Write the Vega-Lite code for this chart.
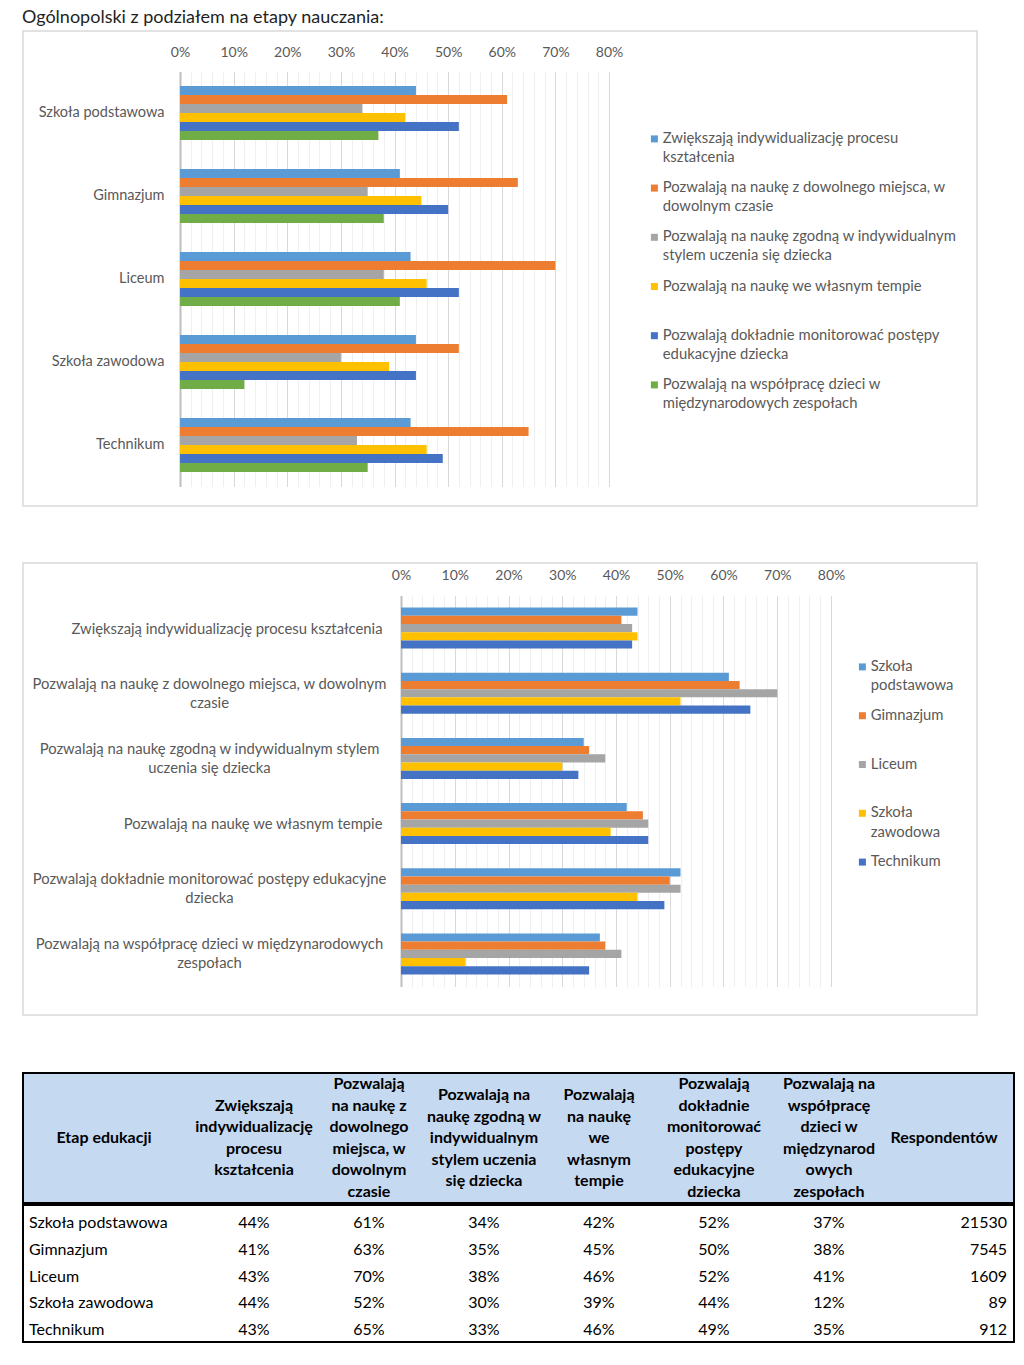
{
  "$schema": "https://vega.github.io/schema/vega-lite/v6.json",
  "background": "white",
  "padding": {"left": 22, "top": 9, "right": 5, "bottom": 5},
  "config": {"font": "Lato", "view": {"stroke": null}},
  "title": {"text": "Ogólnopolski z podziałem na etapy nauczania:", "anchor": "start", "frame": "bounds", "fontSize": 18, "fontWeight": "normal", "color": "#1F1F1F", "offset": 3},
  "datasets": {
    "wyniki": [
      {"etap": "Szkoła podstawowa", "kategoria": "Zwiększają indywidualizację procesu kształcenia", "wartosc": 0.44},
      {"etap": "Szkoła podstawowa", "kategoria": "Pozwalają na naukę z dowolnego miejsca, w dowolnym czasie", "wartosc": 0.61},
      {"etap": "Szkoła podstawowa", "kategoria": "Pozwalają na naukę zgodną w indywidualnym stylem uczenia się dziecka", "wartosc": 0.34},
      {"etap": "Szkoła podstawowa", "kategoria": "Pozwalają na naukę we własnym tempie", "wartosc": 0.42},
      {"etap": "Szkoła podstawowa", "kategoria": "Pozwalają dokładnie monitorować postępy edukacyjne dziecka", "wartosc": 0.52},
      {"etap": "Szkoła podstawowa", "kategoria": "Pozwalają na współpracę dzieci w międzynarodowych zespołach", "wartosc": 0.37},
      {"etap": "Gimnazjum", "kategoria": "Zwiększają indywidualizację procesu kształcenia", "wartosc": 0.41},
      {"etap": "Gimnazjum", "kategoria": "Pozwalają na naukę z dowolnego miejsca, w dowolnym czasie", "wartosc": 0.63},
      {"etap": "Gimnazjum", "kategoria": "Pozwalają na naukę zgodną w indywidualnym stylem uczenia się dziecka", "wartosc": 0.35},
      {"etap": "Gimnazjum", "kategoria": "Pozwalają na naukę we własnym tempie", "wartosc": 0.45},
      {"etap": "Gimnazjum", "kategoria": "Pozwalają dokładnie monitorować postępy edukacyjne dziecka", "wartosc": 0.50},
      {"etap": "Gimnazjum", "kategoria": "Pozwalają na współpracę dzieci w międzynarodowych zespołach", "wartosc": 0.38},
      {"etap": "Liceum", "kategoria": "Zwiększają indywidualizację procesu kształcenia", "wartosc": 0.43},
      {"etap": "Liceum", "kategoria": "Pozwalają na naukę z dowolnego miejsca, w dowolnym czasie", "wartosc": 0.70},
      {"etap": "Liceum", "kategoria": "Pozwalają na naukę zgodną w indywidualnym stylem uczenia się dziecka", "wartosc": 0.38},
      {"etap": "Liceum", "kategoria": "Pozwalają na naukę we własnym tempie", "wartosc": 0.46},
      {"etap": "Liceum", "kategoria": "Pozwalają dokładnie monitorować postępy edukacyjne dziecka", "wartosc": 0.52},
      {"etap": "Liceum", "kategoria": "Pozwalają na współpracę dzieci w międzynarodowych zespołach", "wartosc": 0.41},
      {"etap": "Szkoła zawodowa", "kategoria": "Zwiększają indywidualizację procesu kształcenia", "wartosc": 0.44},
      {"etap": "Szkoła zawodowa", "kategoria": "Pozwalają na naukę z dowolnego miejsca, w dowolnym czasie", "wartosc": 0.52},
      {"etap": "Szkoła zawodowa", "kategoria": "Pozwalają na naukę zgodną w indywidualnym stylem uczenia się dziecka", "wartosc": 0.30},
      {"etap": "Szkoła zawodowa", "kategoria": "Pozwalają na naukę we własnym tempie", "wartosc": 0.39},
      {"etap": "Szkoła zawodowa", "kategoria": "Pozwalają dokładnie monitorować postępy edukacyjne dziecka", "wartosc": 0.44},
      {"etap": "Szkoła zawodowa", "kategoria": "Pozwalają na współpracę dzieci w międzynarodowych zespołach", "wartosc": 0.12},
      {"etap": "Technikum", "kategoria": "Zwiększają indywidualizację procesu kształcenia", "wartosc": 0.43},
      {"etap": "Technikum", "kategoria": "Pozwalają na naukę z dowolnego miejsca, w dowolnym czasie", "wartosc": 0.65},
      {"etap": "Technikum", "kategoria": "Pozwalają na naukę zgodną w indywidualnym stylem uczenia się dziecka", "wartosc": 0.33},
      {"etap": "Technikum", "kategoria": "Pozwalają na naukę we własnym tempie", "wartosc": 0.46},
      {"etap": "Technikum", "kategoria": "Pozwalają dokładnie monitorować postępy edukacyjne dziecka", "wartosc": 0.49},
      {"etap": "Technikum", "kategoria": "Pozwalają na współpracę dzieci w międzynarodowych zespołach", "wartosc": 0.35}
    ],
    "respondenci": [
      {"etap": "Szkoła podstawowa", "respondentow": 21530},
      {"etap": "Gimnazjum", "respondentow": 7545},
      {"etap": "Liceum", "respondentow": 1609},
      {"etap": "Szkoła zawodowa", "respondentow": 89},
      {"etap": "Technikum", "respondentow": 912}
    ],
    "naglowki": [
      {"kolumna": "Etap edukacji", "linie": ["Etap edukacji"]},
      {"kolumna": "Zwiększają indywidualizację procesu kształcenia", "linie": ["Zwiększają", "indywidualizację", "procesu", "kształcenia"]},
      {"kolumna": "Pozwalają na naukę z dowolnego miejsca, w dowolnym czasie", "linie": ["Pozwalają", "na naukę z", "dowolnego", "miejsca, w", "dowolnym", "czasie"]},
      {"kolumna": "Pozwalają na naukę zgodną w indywidualnym stylem uczenia się dziecka", "linie": ["Pozwalają na", "naukę zgodną w", "indywidualnym", "stylem uczenia", "się dziecka"]},
      {"kolumna": "Pozwalają na naukę we własnym tempie", "linie": ["Pozwalają", "na naukę", "we", "własnym", "tempie"]},
      {"kolumna": "Pozwalają dokładnie monitorować postępy edukacyjne dziecka", "linie": ["Pozwalają", "dokładnie", "monitorować", "postępy", "edukacyjne", "dziecka"]},
      {"kolumna": "Pozwalają na współpracę dzieci w międzynarodowych zespołach", "linie": ["Pozwalają na", "współpracę", "dzieci w", "międzynarod", "owych", "zespołach"]},
      {"kolumna": "Respondentów", "linie": ["Respondentów"]}
    ]
  },
  "columns": 1,
  "spacing": 56,
  "resolve": {"scale": {"x": "independent", "y": "independent", "color": "independent", "yOffset": "independent"}, "legend": {"color": "independent"}},
  "concat": [
    {
      "columns": 1,
      "spacing": 55,
      "resolve": {"scale": {"x": "independent", "y": "independent", "color": "independent", "yOffset": "independent"}, "legend": {"color": "independent"}},
      "concat": [
        {
          "width": 954,
          "height": 475,
          "view": {"stroke": "#D9D9D9", "strokeWidth": 1.5, "fill": "#FFFFFF"},
          "data": {"name": "wyniki"},
          "mark": {"type": "bar"},
          "encoding": {
            "y": {
              "field": "etap", "type": "nominal",
              "scale": {"domain": ["Szkoła podstawowa", "Gimnazjum", "Liceum", "Szkoła zawodowa", "Technikum"], "range": [40.5, 455.5], "paddingInner": 0.35, "paddingOuter": 0.175},
              "axis": {"title": null, "offset": -157, "labelAlign": "right", "labelPadding": 16, "ticks": false, "tickSize": 0, "domain": true, "domainColor": "#BFBFBF", "domainWidth": 2, "labelFontSize": 14.5, "labelColor": "#595959", "labelLimit": 300}
            },
            "yOffset": {
              "field": "kategoria", "type": "nominal",
              "scale": {"domain": ["Zwiększają indywidualizację procesu kształcenia", "Pozwalają na naukę z dowolnego miejsca, w dowolnym czasie", "Pozwalają na naukę zgodną w indywidualnym stylem uczenia się dziecka", "Pozwalają na naukę we własnym tempie", "Pozwalają dokładnie monitorować postępy edukacyjne dziecka", "Pozwalają na współpracę dzieci w międzynarodowych zespołach"]}
            },
            "x": {
              "field": "wartosc", "type": "quantitative",
              "scale": {"domain": [0, 0.8], "nice": false, "range": [157, 586]},
              "axis": {"orient": "top", "offset": -40.5, "title": null, "values": [0,0.02,0.04,0.06,0.08,0.1,0.12,0.14,0.16,0.18,0.2,0.22,0.24,0.26,0.28,0.3,0.32,0.34,0.36,0.38,0.4,0.42,0.44,0.46,0.48,0.5,0.52,0.54,0.56,0.58,0.6,0.62,0.64,0.66,0.68,0.7,0.72,0.74,0.76,0.78,0.8],
                "labelExpr": "round(datum.value*100) % 10 == 0 ? format(datum.value, '.0%') : ''",
                "labelFlush": false, "labelOverlap": false, "labelFontSize": 14, "labelColor": "#595959", "labelPadding": 12,
                "ticks": false, "tickSize": 0, "domain": false, "grid": true,
                "gridColor": {"condition": {"test": "round(datum.value*100) % 10 == 0", "value": "#D9D9D9"}, "value": "#EFEFEF"}}
            },
            "color": {
              "field": "kategoria", "type": "nominal",
              "scale": {"domain": ["Zwiększają indywidualizację procesu kształcenia", "Pozwalają na naukę z dowolnego miejsca, w dowolnym czasie", "Pozwalają na naukę zgodną w indywidualnym stylem uczenia się dziecka", "Pozwalają na naukę we własnym tempie", "Pozwalają dokładnie monitorować postępy edukacyjne dziecka", "Pozwalają na współpracę dzieci w międzynarodowych zespołach"], "range": ["#5B9BD5", "#ED7D31", "#A5A5A5", "#FFC000", "#4472C4", "#70AD47"]},
              "legend": {"orient": "none", "legendX": 624, "legendY": 100.5, "title": null, "padding": 0, "symbolType": "square", "symbolSize": 49, "symbolStrokeWidth": 0, "labelFontSize": 14.8, "labelColor": "#595959", "labelBaseline": "middle", "labelOffset": 1, "rowPadding": 14.2, "labelLimit": 400,
                "labelExpr": "datum.label == 'Zwiększają indywidualizację procesu kształcenia' ? ['Zwiększają indywidualizację procesu', 'kształcenia'] : datum.label == 'Pozwalają na naukę z dowolnego miejsca, w dowolnym czasie' ? ['Pozwalają na naukę z dowolnego miejsca, w', 'dowolnym czasie'] : datum.label == 'Pozwalają na naukę zgodną w indywidualnym stylem uczenia się dziecka' ? ['Pozwalają na naukę zgodną w indywidualnym', 'stylem uczenia się dziecka'] : datum.label == 'Pozwalają dokładnie monitorować postępy edukacyjne dziecka' ? ['Pozwalają dokładnie monitorować postępy', 'edukacyjne dziecka'] : datum.label == 'Pozwalają na współpracę dzieci w międzynarodowych zespołach' ? ['Pozwalają na współpracę dzieci w', 'międzynarodowych zespołach'] : [datum.label, '']",
                "encode": {"labels": {"update": {"lineHeight": {"value": 19}}}}}
            }
          }
        },
        {
          "width": 954,
          "height": 452,
          "view": {"stroke": "#D9D9D9", "strokeWidth": 1.5, "fill": "#FFFFFF"},
          "data": {"name": "wyniki"},
          "mark": {"type": "bar"},
          "encoding": {
            "y": {
              "field": "kategoria", "type": "nominal",
              "scale": {"domain": ["Zwiększają indywidualizację procesu kształcenia", "Pozwalają na naukę z dowolnego miejsca, w dowolnym czasie", "Pozwalają na naukę zgodną w indywidualnym stylem uczenia się dziecka", "Pozwalają na naukę we własnym tempie", "Pozwalają dokładnie monitorować postępy edukacyjne dziecka", "Pozwalają na współpracę dzieci w międzynarodowych zespołach"], "range": [32.5, 423.5], "paddingInner": 0.37, "paddingOuter": 0.185},
              "axis": {"title": null, "offset": -378, "labelLineHeight": 19, "labelLimit": 400, "ticks": false, "tickSize": 0, "domain": true, "domainColor": "#BFBFBF", "domainWidth": 2, "labelFontSize": 14.8, "labelColor": "#595959",
                "labelAlign": {"condition": {"test": "datum.value == 'Zwiększają indywidualizację procesu kształcenia' || datum.value == 'Pozwalają na naukę we własnym tempie'", "value": "right"}, "value": "center"},
                "labelPadding": {"condition": {"test": "datum.value == 'Zwiększają indywidualizację procesu kształcenia' || datum.value == 'Pozwalają na naukę we własnym tempie'", "value": 19}, "value": 192},
                "labelOffset": {"condition": {"test": "datum.value == 'Zwiększają indywidualizację procesu kształcenia' || datum.value == 'Pozwalają na naukę we własnym tempie'", "value": 1.5}, "value": -8.5},
                "labelExpr": "datum.label == 'Pozwalają na naukę z dowolnego miejsca, w dowolnym czasie' ? ['Pozwalają na naukę z dowolnego miejsca, w dowolnym', 'czasie'] : datum.label == 'Pozwalają na naukę zgodną w indywidualnym stylem uczenia się dziecka' ? ['Pozwalają na naukę zgodną w indywidualnym stylem', 'uczenia się dziecka'] : datum.label == 'Pozwalają dokładnie monitorować postępy edukacyjne dziecka' ? ['Pozwalają dokładnie monitorować postępy edukacyjne', 'dziecka'] : datum.label == 'Pozwalają na współpracę dzieci w międzynarodowych zespołach' ? ['Pozwalają na współpracę dzieci w międzynarodowych', 'zespołach'] : datum.label"}
            },
            "yOffset": {
              "field": "etap", "type": "nominal",
              "scale": {"domain": ["Szkoła podstawowa", "Gimnazjum", "Liceum", "Szkoła zawodowa", "Technikum"]}
            },
            "x": {
              "field": "wartosc", "type": "quantitative",
              "scale": {"domain": [0, 0.8], "nice": false, "range": [378, 808]},
              "axis": {"orient": "top", "offset": -32.5, "title": null, "values": [0,0.02,0.04,0.06,0.08,0.1,0.12,0.14,0.16,0.18,0.2,0.22,0.24,0.26,0.28,0.3,0.32,0.34,0.36,0.38,0.4,0.42,0.44,0.46,0.48,0.5,0.52,0.54,0.56,0.58,0.6,0.62,0.64,0.66,0.68,0.7,0.72,0.74,0.76,0.78,0.8],
                "labelExpr": "round(datum.value*100) % 10 == 0 ? format(datum.value, '.0%') : ''",
                "labelFlush": false, "labelOverlap": false, "labelFontSize": 14, "labelColor": "#595959", "labelPadding": 13,
                "ticks": false, "tickSize": 0, "domain": false, "grid": true,
                "gridColor": {"condition": {"test": "round(datum.value*100) % 10 == 0", "value": "#D9D9D9"}, "value": "#EFEFEF"}}
            },
            "color": {
              "field": "etap", "type": "nominal",
              "scale": {"domain": ["Szkoła podstawowa", "Gimnazjum", "Liceum", "Szkoła zawodowa", "Technikum"], "range": ["#5B9BD5", "#ED7D31", "#A5A5A5", "#FFC000", "#4472C4"]},
              "legend": {"orient": "none", "legendX": 832, "legendY": 96.5, "title": null, "padding": 0, "symbolType": "square", "symbolSize": 49, "symbolStrokeWidth": 0, "labelFontSize": 14.8, "labelColor": "#595959", "labelBaseline": "middle", "labelOffset": 1, "rowPadding": 13.8, "labelLimit": 400,
                "labelExpr": "datum.label == 'Szkoła podstawowa' ? ['Szkoła', 'podstawowa'] : datum.label == 'Szkoła zawodowa' ? ['Szkoła', 'zawodowa'] : [datum.label, '']",
                "encode": {"labels": {"update": {"lineHeight": {"value": 19.5}}}}}
            }
          }
        }
      ]
    },
    {
      "columns": 1,
      "spacing": 0,
      "resolve": {"scale": {"x": "independent", "y": "independent"}},
      "concat": [
        {
          "width": 991,
          "height": 130,
          "view": {"fill": "#C5D9F1", "stroke": "#000000", "strokeWidth": 2},
          "data": {"name": "naglowki"},
          "encoding": {
            "x": {"field": "kolumna", "type": "nominal", "scale": {"domain": ["Etap edukacji", "Zwiększają indywidualizację procesu kształcenia", "Pozwalają na naukę z dowolnego miejsca, w dowolnym czasie", "Pozwalają na naukę zgodną w indywidualnym stylem uczenia się dziecka", "Pozwalają na naukę we własnym tempie", "Pozwalają dokładnie monitorować postępy edukacyjne dziecka", "Pozwalają na współpracę dzieci w międzynarodowych zespołach", "Respondentów"], "range": [116, 921], "padding": 0}, "axis": null},
            "text": {"field": "linie", "type": "nominal"}
          },
          "layer": [
            {
              "transform": [{"filter": "datum.kolumna == 'Etap edukacji'"}],
              "mark": {"type": "text", "fontWeight": "bold", "fontSize": 16, "baseline": "middle", "color": "#000000", "dx": -35}
            },
            {
              "transform": [{"filter": "datum.kolumna == 'Respondentów'"}],
              "mark": {"type": "text", "fontWeight": "bold", "fontSize": 16, "baseline": "middle", "color": "#000000"}
            },
            {
              "transform": [{"filter": "length(datum.linie) == 4"}],
              "mark": {"type": "text", "fontWeight": "bold", "fontSize": 16, "lineHeight": 21.5, "baseline": "middle", "color": "#000000", "dy": -32.25}
            },
            {
              "transform": [{"filter": "length(datum.linie) == 5"}],
              "mark": {"type": "text", "fontWeight": "bold", "fontSize": 16, "lineHeight": 21.5, "baseline": "middle", "color": "#000000", "dy": -43}
            },
            {
              "transform": [{"filter": "length(datum.linie) == 6"}],
              "mark": {"type": "text", "fontWeight": "bold", "fontSize": 16, "lineHeight": 21.5, "baseline": "middle", "color": "#000000", "dy": -53.75}
            }
          ]
        },
        {
          "width": 991,
          "height": 137,
          "view": {"fill": "#FFFFFF", "stroke": "#000000", "strokeWidth": 2},
          "layer": [
            {
              "data": {"name": "wyniki"},
              "mark": {"type": "text", "fontSize": 16, "color": "#000000"},
              "encoding": {
                "x": {"field": "kategoria", "type": "nominal", "scale": {"domain": ["Etap edukacji", "Zwiększają indywidualizację procesu kształcenia", "Pozwalają na naukę z dowolnego miejsca, w dowolnym czasie", "Pozwalają na naukę zgodną w indywidualnym stylem uczenia się dziecka", "Pozwalają na naukę we własnym tempie", "Pozwalają dokładnie monitorować postępy edukacyjne dziecka", "Pozwalają na współpracę dzieci w międzynarodowych zespołach", "Respondentów"], "range": [116, 921], "padding": 0}, "axis": null},
                "y": {"field": "etap", "type": "nominal", "scale": {"domain": ["Szkoła podstawowa", "Gimnazjum", "Liceum", "Szkoła zawodowa", "Technikum"], "range": [18, 125], "padding": 0}, "axis": null},
                "text": {"field": "wartosc", "type": "quantitative", "format": ".0%"}
              }
            },
            {
              "data": {"name": "respondenci"},
              "mark": {"type": "text", "fontSize": 16, "color": "#000000", "align": "left", "dx": -110},
              "encoding": {
                "x": {"datum": "Etap edukacji", "type": "nominal"},
                "y": {"field": "etap", "type": "nominal"},
                "text": {"field": "etap", "type": "nominal"}
              }
            },
            {
              "data": {"name": "respondenci"},
              "mark": {"type": "text", "fontSize": 16, "color": "#000000", "align": "right", "dx": 63},
              "encoding": {
                "x": {"datum": "Respondentów", "type": "nominal"},
                "y": {"field": "etap", "type": "nominal"},
                "text": {"field": "respondentow", "type": "quantitative", "format": "d"}
              }
            }
          ]
        }
      ]
    }
  ]
}
